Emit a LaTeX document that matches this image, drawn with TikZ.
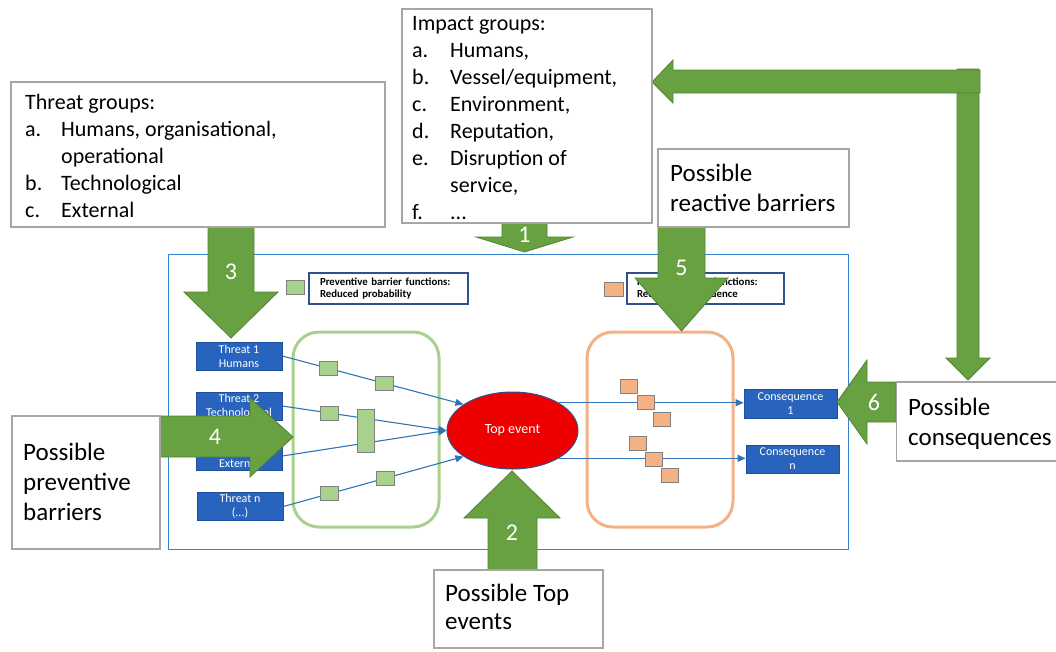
\documentclass[tikz,border=0pt]{standalone}
\usepackage{fontspec}
\setmainfont{Carlito}
\usetikzlibrary{shapes.geometric,arrows.meta}

\definecolor{framegray}{RGB}{166,166,166}
\definecolor{frameblue}{RGB}{52,130,210}
\definecolor{tblue}{RGB}{40,100,190}
\definecolor{tborder}{RGB}{31,78,155}
\definecolor{legborder}{RGB}{47,82,143}
\definecolor{pgreen}{RGB}{169,209,142}
\definecolor{porange}{RGB}{244,177,131}
\definecolor{sqgray}{RGB}{128,128,128}
\definecolor{lineblue}{RGB}{46,117,182}
\definecolor{topred}{RGB}{238,0,0}
\definecolor{agreen}{RGB}{104,161,65}
\definecolor{agreendark}{RGB}{84,130,53}

\begin{document}
\begin{tikzpicture}[x=1pt,y=-1pt,
  grayframe/.style={draw=framegray, line width=1.3pt, fill=white, inner sep=0pt},
  listtext/.style={font=\fontsize{22}{27}\selectfont, inner sep=0pt, anchor=north west},
  bigtext/.style={font=\fontsize{25}{30}\selectfont, inner sep=0pt, anchor=north west},
  threatbox/.style={draw=tborder, fill=tblue, line width=0.8pt, text=white,
    font=\fontsize{12}{14}\selectfont, align=center, inner sep=0pt,
    minimum width=86pt, minimum height=28pt},
  legendbox/.style={draw=legborder, line width=1.2pt, fill=white,
    font=\bfseries\fontsize{10.8}{12.5}\selectfont, align=left,
    inner ysep=0pt, minimum height=31pt, text width=137pt},
  pbsq/.style={draw=sqgray, line width=0.9pt, fill=pgreen,
    minimum width=18pt, minimum height=14pt, inner sep=0pt},
  rbsq/.style={draw=sqgray, line width=0.9pt, fill=porange,
    minimum width=17pt, minimum height=14pt, inner sep=0pt},
  zone/.style={line width=3pt, rounded corners=26pt, inner sep=0pt,
    minimum width=146pt, minimum height=195pt},
  flow/.style={draw=lineblue, line width=1.1pt, -{Triangle[length=8pt,width=7pt]}},
  blockarrow/.style={fill=agreen, draw=agreendark, line width=0.8pt, line join=miter},
  num/.style={text=white, font=\fontsize{24}{24}\selectfont, inner sep=0pt},
]
\clip (0,0) rectangle (1056,651);

% outer frame of the bow-tie
\draw[frameblue, line width=1pt] (168,254) rectangle (848,549);

% barrier zones
\node[zone, draw=pgreen] (pzone) at (366,429.5) {};
\node[zone, draw=porange] (rzone) at (660,429.5) {};

% top event
\node[ellipse, draw=legborder, fill=topred, line width=1pt, minimum width=131pt,
  minimum height=77pt, inner sep=0pt, text=white,
  font=\fontsize{14}{14}\selectfont] (te) at (512.5,430.5) {Top event};

% threats
\node[threatbox] (t1) at (239,356) {Threat 1\\Humans};
\node[threatbox] (t2) at (239,406) {Threat 2\\Technological};
\node[threatbox] (t3) at (239,456) {Threat 3\\External};
\node[threatbox] (tn) at (240,506.5) {Threat n\\(...)};

% consequences
\node[threatbox, minimum width=93pt, minimum height=29pt] (c1) at (790.5,403.5) {Consequence\\1};
\node[threatbox, minimum width=93pt] (cn) at (792.5,459) {Consequence\\n};

% threat paths with preventive barriers
\draw[flow] (t1.east) -- (te.152)
  node[pbsq, pos=0.256] (p1a) {} node[pbsq, pos=0.566] (p1b) {};
\draw[flow] (t2.east) -- (te.west)
  node[pbsq, pos=0.285] (p2a) {};
\draw[flow] (t3.east) -- (te.west);
\node[pbsq, minimum width=17pt, minimum height=43pt] (p23) at (365.5,430.5) {};
\draw[flow] (tn.east) -- (te.208)
  node[pbsq, pos=0.254] (pna) {} node[pbsq, pos=0.569] (pnb) {};

% consequence paths with reactive barriers
\draw[flow] (te.31) -- (te.31 -| c1.west);
\draw[flow] (te.-31) -- (te.-31 -| cn.west);
\node[rbsq] (r1a) at (629,386.5) {};
\node[rbsq] (r1b) at (645.5,402.5) {};
\node[rbsq] (r1c) at (661.5,419) {};
\node[rbsq] (r2a) at (637.5,443) {};
\node[rbsq] (r2b) at (653.5,459) {};
\node[rbsq] (r2c) at (669.5,475) {};

% legends
\node[pbsq] (lps) at (295,287) {};
\node[legendbox, inner xsep=11pt] (lpb) at (388.5,288.5) {Preventive barrier functions:\\Reduced probability};
\node[rbsq, minimum width=19pt] (lrs) at (613.5,289) {};
\node[legendbox, inner xsep=10pt] (lrb) at (705.5,288.5) {Reactive barrier functions:\\Reduced consequence};

% numbered block arrows
\draw[blockarrow] (208,227) -- (254,227) -- (254,292) -- (278,292) -- (231,338)
  -- (184,292) -- (208,292) -- cycle;
\node[num] (n3) at (231,272) {3};
\draw[blockarrow] (502,223) -- (547,223) -- (547,237) -- (573,237) -- (524.5,252)
  -- (476,237) -- (502,237) -- cycle;
\node[num] (n1) at (524.5,235) {1};
\draw[blockarrow] (658,227) -- (705,227) -- (705,278) -- (728,278) -- (681.5,331)
  -- (635,278) -- (658,278) -- cycle;
\node[num] (n5) at (681.5,268) {5};
\draw[blockarrow] (488,570) -- (537,570) -- (537,518) -- (560,518) -- (512,471)
  -- (464,518) -- (488,518) -- cycle;
\node[num] (n2) at (512,533) {2};
\draw[blockarrow] (160,416) -- (250,416) -- (250,398) -- (293,437) -- (250,477)
  -- (250,457) -- (160,457) -- cycle;
\node[num] (n4) at (215,437) {4};
\draw[blockarrow] (896,382) -- (867,382) -- (867,360) -- (837,402) -- (867,444)
  -- (867,422) -- (896,422) -- cycle;
\node[num] (n6) at (874,402) {6};
% feedback from consequences to impact groups
\draw[blockarrow] (957,69) -- (979,69) -- (979,358) -- (990,358) -- (968,380)
  -- (946,358) -- (957,358) -- cycle;
\draw[blockarrow] (980,70) -- (980,93) -- (673,93) -- (673,103) -- (652,82)
  -- (673,60) -- (673,70) -- cycle;

% explanation boxes
\node[grayframe, minimum width=374pt, minimum height=145pt] (tg) at (198,154.5) {};
\node[listtext] (tgt) at (25,90) {\begin{tabular}{@{}p{36pt}@{}l@{}}
\multicolumn{2}{@{}l@{}}{Threat groups:}\\
a. & Humans, organisational,\\
   & operational\\
b. & Technological\\
c. & External
\end{tabular}};

\node[grayframe, minimum width=250pt, minimum height=214pt] (ig) at (527,116) {};
\node[listtext] (igt) at (412,11.8) {\begin{tabular}{@{}p{38pt}@{}l@{}}
\multicolumn{2}{@{}l@{}}{Impact groups:}\\
a. & Humans,\\
b. & Vessel/equipment,\\
c. & Environment,\\
d. & Reputation,\\
e. & Disruption of\\
   & service,\\
f. & ...
\end{tabular}};

\node[grayframe, minimum width=191pt, minimum height=78pt] (rb) at (753.5,188) {};
\node[bigtext] (rbt) at (670,160.7) {\begin{tabular}{@{}l@{}}Possible\\reactive barriers\end{tabular}};

\node[grayframe, minimum width=180pt, minimum height=79pt, anchor=west] (pc) at (896,421.5) {};
\node[bigtext] (pct) at (908,394) {\begin{tabular}{@{}l@{}}Possible\\consequences\end{tabular}};

\node[grayframe, minimum width=148pt, minimum height=133pt] (pp) at (86,482.5) {};
\node[bigtext] (ppt) at (23,439) {\begin{tabular}{@{}l@{}}Possible\\preventive\\barriers\end{tabular}};

\node[grayframe, minimum width=169pt, minimum height=78pt] (pt) at (518.5,609) {};
\node[bigtext, font=\fontsize{25}{28}\selectfont] (ptt) at (445,582) {\begin{tabular}{@{}l@{}}Possible Top\\events\end{tabular}};
\end{tikzpicture}
\end{document}
